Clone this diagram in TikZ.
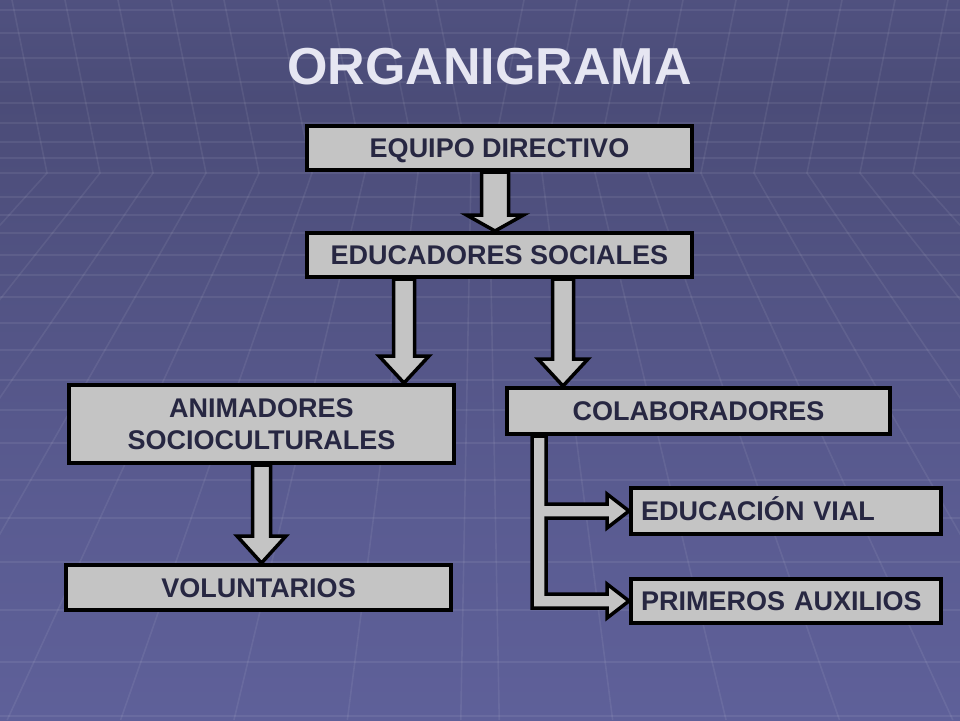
\documentclass[tikz,border=0pt]{standalone}
\usepackage{fontspec}
\setmainfont{Liberation Sans}
\usetikzlibrary{calc}
\definecolor{fondoA}{HTML}{60629A}
\definecolor{fondoB}{HTML}{4B4C78}
\definecolor{fondoC}{HTML}{6668A6}
\definecolor{gris}{HTML}{C4C4C4}
\definecolor{tinta}{HTML}{272742}
\definecolor{titulo}{HTML}{E6E6F2}
\pgfdeclareverticalshading{fondo}{100bp}{color(0bp)=(fondoC); color(40bp)=(fondoC!55!fondoB); color(68bp)=(fondoB); color(100bp)=(fondoA)}
\newcommand\vflecha[5]{%
  \coordinate (tip) at (#1 |- #2.north);
  \draw[flecha] ($(#1)+(-#3,0)$) -- ($(tip)+(-#3,-#5)$) -- ($(tip)+(-#4,-#5)$) -- (tip)
    -- ($(tip)+(#4,-#5)$) -- ($(tip)+(#3,-#5)$) -- ($(#1)+(#3,0)$) -- cycle;}

\begin{document}
\begin{tikzpicture}[x=1pt,y=-1pt,
    caja/.style={draw=black, line width=4pt, fill=gris, text=tinta, font=\bfseries\fontsize{27}{32}\selectfont,
      inner sep=0pt, minimum width=385pt, minimum height=44pt},
    linea/.style={text height=19.5pt, text depth=0pt},
    flecha/.style={draw=black, line width=3.5pt, fill=gris, line join=miter},
    rejilla/.style={white, opacity=0.07, line width=1.6pt},
    rotulo/.style={font=\bfseries\fontsize{52}{60}\selectfont, anchor=base}]
    \shade[shading=fondo] (0,0) rectangle (960,720);
    \useasboundingbox (0,0) rectangle (960,720);
    \begin{scope}
        \clip (0,0) rectangle (960,720);
        \foreach \y in {10,33,58,82,103,123,142,158,173,197,215,233,255,275,297,323,350,380,410,443,480,518,562,610,662,716}
            \draw[rejilla] (0,\y) -- (960,\y);
        \foreach \v in {47,100,...,471}
            \draw[rejilla] ({\v-35},0) -- (\v,173) -- ({\v-(480-\v)/480*547},720);
        \foreach \v in {913,860,...,489}
            \draw[rejilla] ({\v+35},0) -- (\v,173) -- ({\v+(\v-480)/480*547},720);
    \end{scope}

    \node[rotulo, text=titulo] (titulo) at (489.5,84) {ORGANIGRAMA};

    \node[caja, linea] (eq) at (499.5,148) {EQUIPO DIRECTIVO};
    \node[caja, linea] (ed) at (499.5,255) {EDUCADORES SOCIALES};
    \node[caja, minimum height=78pt, align=center] (an) at (261.5,424) {ANIMADORES\\SOCIOCULTURALES};
    \node[caja, linea, minimum width=383pt, minimum height=46pt] (co) at (698.5,411) {COLABORADORES};
    \node[caja, linea, minimum height=45pt] (vo) at (258.5,587.5) {VOLUNTARIOS};
    \node[caja, linea, minimum width=310pt, minimum height=46pt, text width=290pt, align=left] (ev) at (786,511) {EDUCACIÓN VIAL};
    \node[caja, linea, minimum width=310pt, text width=290pt, align=left] (pa) at (786,601) {PRIMEROS AUXILIOS};

    \coordinate (s1) at ($(eq.south)+(-4.5,0)$);
    \coordinate (s2) at ($(ed.south)+(-95.5,0)$);
    \coordinate (s3) at ($(ed.south)+(63.5,0)$);
    \coordinate (s4) at (an.south);
    \vflecha{s1}{ed}{13.5}{28.5}{16}
    \vflecha{s2}{an}{10.5}{25}{27}
    \vflecha{s3}{co}{10.5}{25}{27}
    \vflecha{s4}{vo}{9}{24.5}{27}

    \coordinate (bl) at ($(co.south west)+(27,0)$);
    \coordinate (j1) at (bl |- ev.west);
    \coordinate (j2) at (bl |- pa.west);
    \draw[flecha] (bl) -- ($(j2)+(0,7)$) -- ($(pa.west)+(-22,7)$) -- ($(pa.west)+(-22,17)$) -- (pa.west)
        -- ($(pa.west)+(-22,-17)$) -- ($(pa.west)+(-22,-7)$) -- ($(j2)+(14,-7)$)
        -- ($(j1)+(14,7)$) -- ($(ev.west)+(-22,7)$) -- ($(ev.west)+(-22,17)$) -- (ev.west)
        -- ($(ev.west)+(-22,-17)$) -- ($(ev.west)+(-22,-7)$) -- ($(j1)+(14,-7)$) -- ($(bl)+(14,0)$) -- cycle;
\end{tikzpicture}
\end{document}
